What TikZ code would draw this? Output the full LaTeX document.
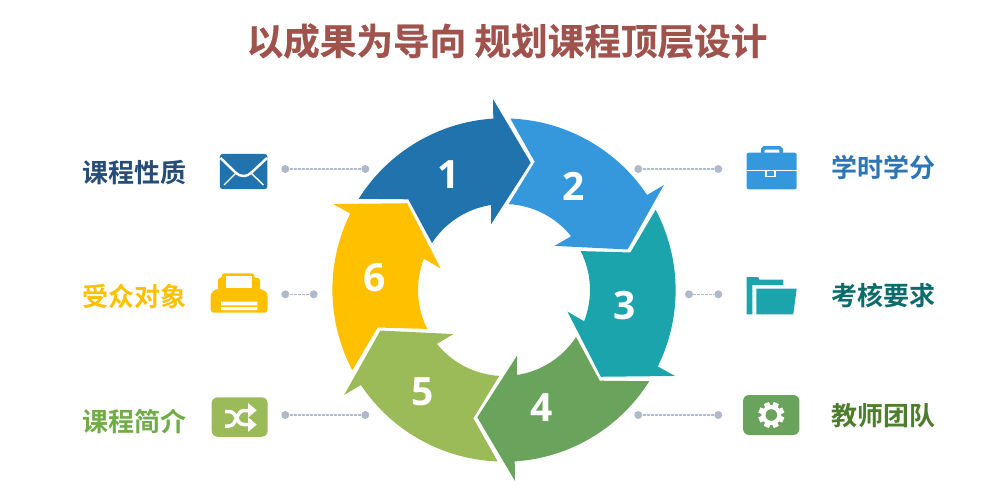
\documentclass[tikz,border=0pt]{standalone}
\usepackage{fontspec}
\setmainfont{Open Sans}
\newfontfamily\cjkfont{Noto Sans CJK SC}[BoldFont={Noto Sans CJK SC Bold}]
\newfontfamily\titlefont{Noto Sans CJK SC}[BoldFont={Noto Sans CJK SC Bold}, BoldFeatures={FakeBold=0.5}]
\usetikzlibrary{arrows.meta, positioning}
\definecolor{ringblue}{HTML}{2173AD}
\definecolor{ringsky}{HTML}{3698DC}
\definecolor{ringteal}{HTML}{1BA4AC}
\definecolor{ringgreen}{HTML}{69A35C}
\definecolor{ringlime}{HTML}{9BBB59}
\definecolor{ringgold}{HTML}{FFC000}
\definecolor{titlered}{HTML}{A0524D}
\definecolor{leadgray}{HTML}{B0B8CC}
\definecolor{labnavy}{HTML}{264D78}
\definecolor{labblue}{HTML}{2E75B6}
\definecolor{labteal}{HTML}{0D6B6B}
\definecolor{labmoss}{HTML}{4E7D2E}
\definecolor{labolive}{HTML}{70AD47}
\begin{document}
\begin{tikzpicture}[
  x=1pt, y=-1pt,
  titlelabel/.style={font=\titlefont\bfseries\fontsize{36.6}{36.6}\selectfont, text=titlered, inner sep=0pt},
  sidelabel/.style={font=\cjkfont\bfseries\fontsize{26}{26}\selectfont, text=#1, inner sep=0pt},
  ringnum/.style={font=\bfseries\fontsize{39}{39}\selectfont, text=white, inner sep=0pt},
  leaddot/.style={circle, fill=leadgray, minimum size=8pt, inner sep=0pt},
  leadline/.style={leadgray, line width=1.2pt, dash pattern=on 3pt off 1pt},
  iconbox/.style={rectangle, rounded corners=5pt, fill=#1, inner sep=0pt},
  iconline/.style={white, line width=2.4pt},
]
\useasboundingbox (0,0) rectangle (984,497);

% ring of arrows
\foreach \i/\col in {0/ringblue, 1/ringsky, 2/ringteal, 3/ringgreen, 4/ringlime, 5/ringgold} {
  \begin{scope}[shift={(504,290)}, rotate=-60*\i]
    \fill[\col] (-145.3,-91.2) arc[start angle=-147.9, end angle=-93.7, radius=172]
      -- (-11,-191) -- (26.7,-127.3) -- (-13,-65.7) -- (-13,-85)
      arc[start angle=-98.7, end angle=-146.9, radius=86] -- (-95.7,-90.7) -- cycle;
  \end{scope}
}
\node[ringnum] (n1) at (449,175) {1};
\node[ringnum] (n2) at (573.5,186) {2};
\node[ringnum] (n3) at (624.5,306) {3};
\node[ringnum] (n4) at (541.5,408) {4};
\node[ringnum] (n5) at (423,392) {5};
\node[ringnum] (n6) at (375,278) {6};

% title and labels
\node[titlelabel] (title) at (507,41) {以成果为导向 规划课程顶层设计};
\node[sidelabel=labnavy] (lab1) at (134,172.5) {课程性质};
\node[sidelabel=ringgold] (lab6) at (134,296.5) {受众对象};
\node[sidelabel=labolive] (lab5) at (134,421.5) {课程简介};
\node[sidelabel=labblue] (lab2) at (883,167.5) {学时学分};
\node[sidelabel=labteal] (lab3) at (883,295.5) {考核要求};
\node[sidelabel=labmoss] (lab4) at (883,415.5) {教师团队};

% leaders
\foreach \name/\xa/\xb/\ya in {la/285.3/365.3/169, lb/285.3/313.7/294.3, lc/285.3/365.3/415, ra/638.3/718.3/169, rb/689/718.3/294.3, rc/638.3/718.3/415} {
  \node[leaddot] (\name1) at (\xa,\ya) {};
  \node[leaddot] (\name2) at (\xb,\ya) {};
  \draw[leadline] (\name1) -- (\name2);
}

% mail icon
\node[iconbox=ringblue, rounded corners=2.5pt, minimum width=47.5pt, minimum height=35pt] (mail) at (243.7,171.5) {};
\draw[iconline] (220.5,158) -- (236,173) .. controls (240,177) and (247,177) .. (251,173) -- (267,158);
\draw[white, line width=1.4pt] (224,185) -- (237,172) (263.5,185) -- (250,172);

% printer icon
\fill[ringgold, rounded corners=2pt] (218,290) -- (218,278) -- (222,278) -- (222,273.3) -- (254,273.3) -- (254,278) -- (260,278) -- (260,290) -- cycle;
\fill[ringgold, rounded corners=3pt] (210.7,312.7) -- (210.7,293) -- (216,289) -- (262,289) -- (267.7,293) -- (267.7,312.7) -- cycle;
\fill[white] (226,276) rectangle (252.3,288.3);
\fill[white] (221,301.7) rectangle (257.3,305.3) (221,307) rectangle (257.3,310);

% shuffle icon
\node[iconbox=ringlime, rounded corners=6pt, minimum width=56pt, minimum height=39.5pt] (shuffle) at (239.7,417) {};
\draw[white, line width=3.5pt] (225,411.5) -- (229,411.5) .. controls (237,411.5) and (236,424.5) .. (244,424.5) -- (250,424.5);
\draw[white, line width=3.5pt] (225,426) -- (229,426) .. controls (237,426) and (236,410.5) .. (244,410.5) -- (250,410.5);
\fill[white] (248,403) -- (256.7,410.3) -- (248,417.6) -- cycle;
\fill[white] (248,417.3) -- (256.7,424.6) -- (248,431.9) -- cycle;

% briefcase icon
\fill[ringsky, rounded corners=2pt] (746.7,152.7) rectangle (796.7,189.3);
\draw[ringsky, line width=3.5pt, rounded corners=1.5pt] (762.8,153) -- (762.8,147.8) -- (781,147.8) -- (781,153);
\draw[white, line width=1.2pt] (746.7,170.7) -- (796.7,170.7);
\fill[ringsky] (766,170.7) rectangle (775,176.7);
\draw[white, line width=1.2pt] (766,170.7) -- (766,176.7) -- (775,176.7) -- (775,170.7);

% folder icon
\fill[ringteal] (746.7,277) -- (758.3,277) -- (759.3,279.7) -- (783.3,279.7) -- (783.3,285) -- (752.3,285) -- (752.3,314.3) -- (746.7,314.3) -- cycle;
\fill[ringteal] (756.3,288.7) -- (796.7,288.7) -- (793.3,314.3) -- (756.3,314.3) -- cycle;

% gear icon
\node[iconbox=ringgreen, rounded corners=6pt, minimum width=56.3pt, minimum height=40pt] (gear) at (771.2,415) {};
\fill[white] (771.3,415) circle (10pt);
\foreach \a in {0,45,...,315} {
  \fill[white, shift={(771.3,415)}, rotate=\a+22.5] (-2.8,-13) rectangle (2.8,-8);
}
\fill[ringgreen] (771.3,415) circle (5.8pt);
\end{tikzpicture}
\end{document}
